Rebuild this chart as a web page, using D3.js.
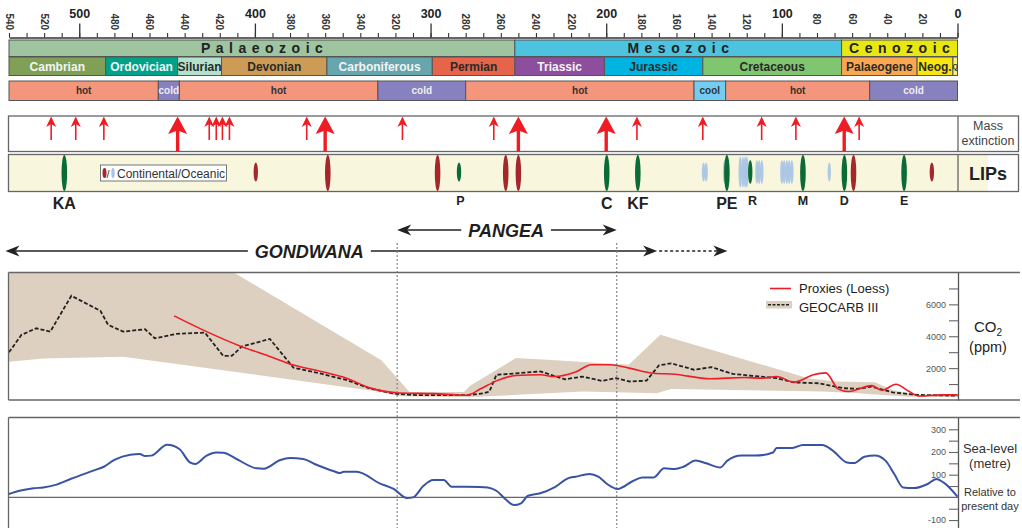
<!DOCTYPE html>
<html>
<head>
<meta charset="utf-8">
<script src="https://cdn.jsdelivr.net/npm/d3@7"></script>
<style>
  body { margin: 0; background: #fff; }
  svg { display: block; font-family: "Liberation Sans", Arial, sans-serif; }
</style>
</head>
<body>
<svg id="chart" width="1022" height="528"></svg>
<script>
// ---- time scale (Ma) ----
var majorTicks = [500, 400, 300, 200, 100, 0];
var minorLabels = [540, 520, 480, 460, 440, 420, 380, 360, 340, 320, 280, 260, 240, 220, 180, 160, 140, 120, 80, 60, 40, 20];

var eras = ["Palaeozoic", "Mesozoic", "Cenozoic"];
var eraStart = [540, 252, 66];
var eraEnd = [252, 66, 0];

var periods = ["Cambrian", "Ordovician", "Silurian", "Devonian", "Carboniferous", "Permian",
  "Triassic", "Jurassic", "Cretaceous", "Palaeogene", "Neog.", "Q"];
var periodStart = [540, 485, 444, 419, 359, 299, 252, 201, 145, 66, 23, 2.6];
var periodEnd = [485, 444, 419, 359, 299, 252, 201, 145, 66, 23, 2.6, 0];

var climate = ["hot", "cold", "hot", "cold", "hot", "cool", "hot", "cold"];
var climateStart = [540, 455, 443, 330, 280, 150, 132, 50];
var climateEnd = [455, 443, 330, 280, 150, 132, 50, 0];

// ---- mass extinctions ----
var extinctionMinor = [516, 502, 486, 426, 422, 418.5, 414.5, 370.5, 316, 264, 182.5, 145, 111.5, 92, 56];
var extinctionMajor = [444, 360, 250, 200, 64.5];

// ---- large igneous provinces ----
var lipAge = [508.5, 399.5, 358.5, 296, 283.8, 257.2, 250, 199.7, 182, 144.6, 143.1, 132.6, 131.3,
  123.7, 122.2, 120.9, 119.9, 118, 114.2, 112.9, 111.4, 100, 98.7, 97.2, 95.8, 94.3, 88, 73, 64.4, 59.2, 30.4, 14.6];
var lipType = ["linked", "continental", "continental", "continental", "linked", "continental", "continental",
  "linked", "linked", "oceanic", "oceanic", "oceanic", "linked", "oceanic", "oceanic", "oceanic", "oceanic",
  "linked", "oceanic", "oceanic", "oceanic", "oceanic", "oceanic", "oceanic", "oceanic", "oceanic",
  "linked", "oceanic", "linked", "continental", "linked", "continental"];
var lipSize = ["L", "S", "L", "L", "S", "L", "L", "L", "L", "S", "S", "M", "L", "T", "T", "T", "T",
  "M", "M", "M", "M", "M", "M", "M", "M", "M", "L", "S", "L", "L", "L", "S"];
var lipNames = ["KA", "P", "C", "KF", "PE", "R", "M", "D", "E"];
var lipNameAge = [508.5, 283, 199.7, 182, 131.3, 116.7, 88, 64.4, 30.4];
var lipNameBig = [true, false, true, true, true, false, false, false, false];

// ---- supercontinents ----
var pangea = [319, 194];
var pangeaLabelAge = 257;
var gondwana = [542, 171];
var gondwanaLabelAge = 369;
var gondwanaDashedEnd = 131;

// ---- CO2 (ppm) ----
var geocarbAge = [540, 533, 524.5, 516.5, 504.5, 488, 483.5, 475, 462.5, 457, 444.5, 428.5, 418, 413, 407.5,
  391.5, 378, 363, 347.5, 334.5, 321, 308, 279.5, 270, 266.5, 262.5, 237.5, 223.5, 213.5, 202.5, 194.5,
  186.5, 177, 170, 163, 150, 140, 128, 117, 103, 93, 79, 65, 57, 49, 37, 23, 0];
var geocarbCO2 = [2990, 4080, 4500, 4290, 6540, 5600, 4710, 4290, 4440, 3870, 4150, 4230, 2760, 2780, 3350,
  3830, 2020, 1670, 1240, 720, 400, 300, 300, 420, 530, 1580, 1790, 1300, 1470, 1200, 1370,
  1160, 1220, 2170, 2300, 1900, 2060, 1640, 1520, 1370, 1100, 1050, 740, 700, 840, 480, 320, 270];

var proxyAge = [446, 427.5, 408.5, 392, 378, 363, 347.5, 334.5, 317.5, 298.5, 279.5, 271.5, 262.5, 251.5,
  237.5, 229.5, 217.5, 208.5, 197.5, 187, 173, 161, 141, 121, 111, 103, 93, 82, 75, 68, 62, 49, 43, 35,
  28, 22, 9, 0];
var proxyCO2 = [5280, 4290, 3390, 2750, 2190, 1810, 1350, 760, 440, 400, 300, 700, 1200, 1540,
  1580, 1470, 1750, 2210, 2210, 2000, 1680, 1620, 1330, 1410, 1370, 1470, 1120, 1580, 1700, 700, 530, 900,
  610, 990, 570, 250, 320, 320];

var bandUpperAge = [540, 412, 328, 312, 281, 277.5, 251.4, 233.4, 187.2, 169.2, 85, 69, 47, 37, 23, 0];
var bandUpperCO2 = [8000, 8000, 2500, 505, 505, 900, 2630, 2526, 2210, 4100, 1370, 1158, 1116, 632, 316, 390];
var bandLowerAge = [540, 520.5, 475, 328, 317.5, 279.5, 213.3, 171.2, 163.2, 77, 57, 28, 0];
var bandLowerCO2 = [2400, 2610, 2715, 505, 233, 170, 526, 421, 695, 526, 421, 210, 168];

// ---- sea level (m, relative to present day) ----
var seaAge = [540, 534, 526, 520.5, 514, 505, 492, 486, 480, 471, 465.5, 462.5, 459, 450, 443, 437, 434,
  427.5, 422, 418, 410.5, 399, 395, 385.5, 380, 372.5, 366, 355, 351.5, 349.5, 342, 329, 321, 313.5, 310,
  304, 298.5, 292.5, 288, 272, 267.5, 262.5, 257.5, 252.5, 248.5, 244.5, 237.5, 229.5, 221.5, 217.5,
  209.5, 204.5, 199.5, 193.5, 185, 179.5, 173, 167, 161, 156, 149, 143, 135, 131, 123, 115, 105, 103,
  94, 88, 77, 71, 63, 59, 53, 47, 41, 36, 31, 25, 17, 12, 8, 0];
var seaLevel = [15, 29, 40, 44, 54, 81, 118, 135, 165, 188, 191, 182, 184, 232, 213, 154, 147,
  184, 198, 197, 169, 128, 126, 165, 173, 169, 147, 115, 107, 113, 113, 62, 37, -3, 0,
  51, 76, 76, 47, 46, 44, 29, -7, -34, -26, 7, 18, 44, 85, 91,
  103, 91, 59, 37, 71, 88, 88, 128, 125, 135, 162, 150, 132, 162, 184, 184, 198, 218,
  218, 231, 231, 206, 154, 151, 179, 184, 162, 103, 44, 41, 59, 81, 66, 3];

var eraColor = { Palaeozoic: "#9ec4a0", Mesozoic: "#4dc3df", Cenozoic: "#e8e712" };
var periodColor = {
  Cambrian: "#7fa056", Ordovician: "#00a189", Silurian: "#b3e1cb", Devonian: "#cc9b55",
  Carboniferous: "#67a6ac", Permian: "#e5644a", Triassic: "#8d4f9d", Jurassic: "#00b4e1",
  Cretaceous: "#80c56f", Palaeogene: "#f9a750", "Neog.": "#f9e510", Q: "#f9ef7a"
};
var lightText = ["Cambrian", "Ordovician", "Carboniferous", "Triassic"];
var climateColor = { hot: "#f4967b", cold: "#8781c0", cool: "#72cdf4" };
var lipColor = { linked: "#0b6b36", continental: "#a3272b", oceanic: "#a6c3e6" };
var lipRy = { L: 18, T: 15.5, M: 12, S: 9.5 };

var svg = d3.select("#chart");
var FONT = "'Liberation Sans', Arial, sans-serif";

var x = d3.scaleLinear().domain([540, 0]).range([9, 957.5]);

// top axis
var axisG = svg.append("g").attr("transform", "translate(0,37.5)")
  .call(d3.axisTop(x).tickValues(d3.range(0, 541, 10)).tickSize(4.5).tickSizeOuter(0).tickFormat(""));
axisG.select(".domain").attr("stroke", "#333").attr("stroke-width", 1.3);
axisG.selectAll(".tick line").attr("stroke", "#333").attr("stroke-width", 1.1);

var majorG = svg.append("g").attr("transform", "translate(0,37.5)")
  .call(d3.axisTop(x).tickValues(majorTicks).tickSize(14).tickPadding(6).tickFormat(d3.format("d")));
majorG.select(".domain").remove();
majorG.attr("font-family", FONT).attr("font-size", 12.5).attr("font-weight", "bold");
majorG.selectAll(".tick line").attr("stroke", "#333").attr("stroke-width", 1.3);
majorG.selectAll(".tick text").attr("fill", "#222");

svg.append("g").selectAll("text").data(minorLabels).join("text")
  .attr("transform", function (d) { return "translate(" + x(d) + ",13.5) rotate(90)"; })
  .attr("dy", "0.35em")
  .attr("font-size", 10).attr("font-weight", "bold").attr("fill", "#333")
  .text(function (d) { return d; });

// era / period / climate bars
function bar(names, starts, ends, y0, h, fillFn) {
  var g = svg.append("g");
  g.selectAll("rect").data(names).join("rect")
    .attr("x", function (d, i) { return x(starts[i]); })
    .attr("width", function (d, i) { return x(ends[i]) - x(starts[i]); })
    .attr("y", y0).attr("height", h)
    .attr("fill", fillFn)
    .attr("stroke", "#555").attr("stroke-width", 1);
  return g.selectAll("text").data(names).join("text")
    .attr("x", function (d, i) { return (x(starts[i]) + x(ends[i])) / 2; })
    .attr("y", y0 + h / 2).attr("dy", "0.36em")
    .attr("text-anchor", "middle").attr("font-weight", "bold")
    .text(function (d) { return d; });
}

bar(eras, eraStart, eraEnd, 40, 16.5, function (d) { return eraColor[d]; })
  .attr("font-size", 14).attr("letter-spacing", 5.5).attr("dx", 2.7).attr("fill", "#222");

bar(periods, periodStart, periodEnd, 57, 18.5, function (d) { return periodColor[d]; })
  .attr("font-size", function (d) { return d === "Q" ? 7 : 12; })
  .attr("fill", function (d) { return lightText.indexOf(d) >= 0 ? "#f4f4f4" : "#2a2a2a"; });

bar(climate, climateStart, climateEnd, 81, 19.5, function (d) { return climateColor[d]; })
  .attr("font-size", 10)
  .attr("fill", function (d) { return d === "cold" ? "#eeeeee" : "#333"; });

// mass extinction box
var extG = svg.append("g");
extG.append("rect").attr("x", 8.5).attr("y", 116).attr("width", 1010).attr("height", 35.5)
  .attr("fill", "#fff").attr("stroke", "#666").attr("stroke-width", 1.3);
extG.append("line").attr("x1", 958).attr("x2", 958).attr("y1", 116).attr("y2", 151.5)
  .attr("stroke", "#666").attr("stroke-width", 1.3);

extG.selectAll(".minor").data(extinctionMinor).join("g").attr("class", "minor")
  .each(function (d) {
    var g = d3.select(this), cx = x(d);
    g.append("line").attr("x1", cx).attr("x2", cx).attr("y1", 140).attr("y2", 122)
      .attr("stroke", "#ee1c25").attr("stroke-width", 1.6);
    g.append("path").attr("fill", "#ee1c25")
      .attr("d", "M" + (cx - 5) + ",127 L" + cx + ",116.5 L" + (cx + 5) + ",127 L" + cx + ",124 Z");
  });
extG.selectAll(".major").data(extinctionMajor).join("g").attr("class", "major")
  .each(function (d) {
    var g = d3.select(this), cx = x(d);
    g.append("line").attr("x1", cx).attr("x2", cx).attr("y1", 151.5).attr("y2", 128)
      .attr("stroke", "#ee1c25").attr("stroke-width", 3.4);
    g.append("path").attr("fill", "#ee1c25")
      .attr("d", "M" + (cx - 9.5) + ",134 L" + cx + ",116.5 L" + (cx + 9.5) + ",134 L" + cx + ",130.5 Z");
  });
extG.append("text").attr("x", 988).attr("y", 130).attr("text-anchor", "middle")
  .attr("font-size", 12.5).attr("fill", "#444").text("Mass");
extG.append("text").attr("x", 988).attr("y", 145).attr("text-anchor", "middle")
  .attr("font-size", 12.5).attr("fill", "#444").text("extinction");

// LIPs box
var lipG = svg.append("g");
lipG.append("rect").attr("x", 8.5).attr("y", 154.5).attr("width", 979.5).attr("height", 37)
  .attr("fill", "#f8f7de");
lipG.append("rect").attr("x", 8.5).attr("y", 154.5).attr("width", 1010).attr("height", 37)
  .attr("fill", "none").attr("stroke", "#666").attr("stroke-width", 1.3);
lipG.append("line").attr("x1", 958).attr("x2", 958).attr("y1", 154.5).attr("y2", 191.5)
  .attr("stroke", "#666").attr("stroke-width", 1.3);
lipG.selectAll("ellipse.lip").data(lipAge).join("ellipse").attr("class", "lip")
  .attr("cx", function (d) { return x(d); })
  .attr("cy", function (d, i) { return lipSize[i] === "L" ? 173 : 172; })
  .attr("rx", function (d, i) { return lipType[i] === "oceanic" ? 1.7 : (lipSize[i] === "L" ? 2.8 : 2.2); })
  .attr("ry", function (d, i) { return lipRy[lipSize[i]]; })
  .attr("fill", function (d, i) { return lipColor[lipType[i]]; })
  .attr("opacity", function (d, i) { return lipType[i] === "oceanic" ? 0.9 : 1; });

// legend inside LIPs box
lipG.append("rect").attr("x", 100.5).attr("y", 165).attr("width", 126).attr("height", 16)
  .attr("fill", "#fff").attr("stroke", "#777").attr("stroke-width", 1);
lipG.append("ellipse").attr("cx", 104.5).attr("cy", 173).attr("rx", 2).attr("ry", 5).attr("fill", lipColor.continental);
lipG.append("text").attr("x", 106.5).attr("y", 177.5).attr("font-size", 11).attr("fill", "#333").text("/");
lipG.append("ellipse").attr("cx", 113).attr("cy", 173).attr("rx", 1.7).attr("ry", 5).attr("fill", lipColor.oceanic);
lipG.append("text").attr("x", 117).attr("y", 177.5).attr("font-size", 12).attr("fill", "#333")
  .text("Continental/Oceanic");
lipG.append("text").attr("x", 988).attr("y", 180).attr("text-anchor", "middle")
  .attr("font-size", 18).attr("font-weight", "bold").attr("fill", "#222").text("LIPs");

svg.append("g").selectAll("text").data(lipNames).join("text")
  .attr("x", function (d, i) { return x(lipNameAge[i]); })
  .attr("y", function (d, i) { return lipNameBig[i] ? 209 : 205; })
  .attr("text-anchor", "middle").attr("font-weight", "bold").attr("fill", "#222")
  .attr("font-size", function (d, i) { return lipNameBig[i] ? 16 : 12.5; })
  .text(function (d) { return d; });

// supercontinent arrows
function arrowHead(tip, y, dir) {
  return "M" + tip + "," + y + " L" + (tip - dir * 14) + "," + (y - 5.5) + " L" + (tip - dir * 10) + "," + y +
    " L" + (tip - dir * 14) + "," + (y + 5.5) + " Z";
}
var contG = svg.append("g").attr("stroke", "#222").attr("fill", "#222");

var pText = contG.append("text").attr("x", x(pangeaLabelAge)).attr("y", 237).attr("stroke", "none")
  .attr("text-anchor", "middle").attr("font-size", 18).attr("font-style", "italic").attr("font-weight", "bold")
  .attr("fill", "#1e1e1e").text("PANGEA");
var pHalf = pText.node().getComputedTextLength() / 2 + 7;
contG.append("line").attr("x1", x(pangeaLabelAge) - pHalf).attr("x2", x(pangea[0]) + 10)
  .attr("y1", 230).attr("y2", 230).attr("stroke-width", 1.6);
contG.append("path").attr("stroke", "none").attr("d", arrowHead(x(pangea[0]), 230, -1));
contG.append("line").attr("x1", x(pangeaLabelAge) + pHalf).attr("x2", x(pangea[1]) - 10)
  .attr("y1", 230).attr("y2", 230).attr("stroke-width", 1.6);
contG.append("path").attr("stroke", "none").attr("d", arrowHead(x(pangea[1]), 230, 1));

var gText = contG.append("text").attr("x", x(gondwanaLabelAge)).attr("y", 258).attr("stroke", "none")
  .attr("text-anchor", "middle").attr("font-size", 18).attr("font-style", "italic").attr("font-weight", "bold")
  .attr("fill", "#1e1e1e").text("GONDWANA");
var gHalf = gText.node().getComputedTextLength() / 2 + 7;
contG.append("line").attr("x1", x(gondwanaLabelAge) - gHalf).attr("x2", x(gondwana[0]) + 10)
  .attr("y1", 251).attr("y2", 251).attr("stroke-width", 1.6);
contG.append("path").attr("stroke", "none").attr("d", arrowHead(x(gondwana[0]), 251, -1));
contG.append("line").attr("x1", x(gondwanaLabelAge) + gHalf).attr("x2", x(gondwana[1]) - 10)
  .attr("y1", 251).attr("y2", 251).attr("stroke-width", 1.6);
contG.append("path").attr("stroke", "none").attr("d", arrowHead(x(gondwana[1]), 251, 1));
contG.append("line").attr("x1", x(gondwana[1]) + 2).attr("x2", x(gondwanaDashedEnd) - 10)
  .attr("y1", 251).attr("y2", 251).attr("stroke-width", 1.3).attr("stroke-dasharray", "3,2.5");
contG.append("path").attr("stroke", "none").attr("d", arrowHead(x(gondwanaDashedEnd), 251, 1));

// ---- CO2 panel ----
var yCO2 = d3.scaleLinear().domain([0, 8000]).range([400, 272.5]);
svg.append("clipPath").attr("id", "co2clip").append("rect")
  .attr("x", 8.5).attr("y", 272.5).attr("width", 949.5).attr("height", 127.5);
var co2G = svg.append("g");
var bandPts = bandUpperAge.map(function (a, i) { return [x(a), yCO2(bandUpperCO2[i])]; })
  .concat(bandLowerAge.map(function (a, i) { return [x(a), yCO2(bandLowerCO2[i])]; }).reverse());
co2G.append("path").attr("clip-path", "url(#co2clip)")
  .attr("d", d3.line()(bandPts) + "Z").attr("fill", "#ddd0c0");

// Pangea dotted markers
svg.append("g").selectAll("line").data(pangea).join("line")
  .attr("x1", function (d) { return x(d); }).attr("x2", function (d) { return x(d); })
  .attr("y1", 243).attr("y2", 528)
  .attr("stroke", "#888").attr("stroke-width", 1.2).attr("stroke-dasharray", "2,2");

co2G.append("path")
  .attr("d", d3.line().x(function (d) { return x(d); }).y(function (d, i) { return yCO2(geocarbCO2[i]); })(geocarbAge))
  .attr("fill", "none").attr("stroke", "#222").attr("stroke-width", 1.8).attr("stroke-dasharray", "4,2");
co2G.append("path")
  .attr("d", d3.line().curve(d3.curveMonotoneX)
    .x(function (d) { return x(d); }).y(function (d, i) { return yCO2(proxyCO2[i]); })(proxyAge))
  .attr("fill", "none").attr("stroke", "#ee1c25").attr("stroke-width", 1.6);

svg.append("line").attr("x1", 8.5).attr("x2", 1020).attr("y1", 272.5).attr("y2", 272.5)
  .attr("stroke", "#666").attr("stroke-width", 1.3);
svg.append("line").attr("x1", 8.5).attr("x2", 1020).attr("y1", 400).attr("y2", 400)
  .attr("stroke", "#666").attr("stroke-width", 1.3);
svg.append("line").attr("x1", 8.5).attr("x2", 8.5).attr("y1", 272.5).attr("y2", 400)
  .attr("stroke", "#666").attr("stroke-width", 1.3);

var co2Axis = svg.append("g").attr("transform", "translate(958,0)")
  .call(d3.axisLeft(yCO2).tickValues(d3.range(1000, 8000, 1000)).tickSize(9).tickSizeOuter(0).tickPadding(3)
    .tickFormat(function (d) { return d % 2000 ? "" : d; }));
co2Axis.attr("font-family", FONT).attr("font-size", 9);
co2Axis.select(".domain").attr("stroke", "#555").attr("stroke-width", 1.3);
co2Axis.selectAll(".tick line").attr("stroke", "#666").attr("stroke-width", 1.1);
co2Axis.selectAll(".tick text").attr("fill", "#555");

var co2Label = svg.append("text").attr("x", 988).attr("y", 331.5).attr("text-anchor", "middle")
  .attr("font-size", 15).attr("fill", "#222");
co2Label.append("tspan").text("CO");
co2Label.append("tspan").attr("font-size", 10).attr("dy", 4).text("2");
svg.append("text").attr("x", 988).attr("y", 352).attr("text-anchor", "middle")
  .attr("font-size", 14.5).attr("fill", "#222").text("(ppm)");

// legend
var legG = svg.append("g");
legG.append("line").attr("x1", 770).attr("x2", 791).attr("y1", 288.5).attr("y2", 288.5)
  .attr("stroke", "#ee1c25").attr("stroke-width", 1.6);
legG.append("text").attr("x", 799).attr("y", 293).attr("font-size", 13).attr("fill", "#222").text("Proxies (Loess)");
legG.append("rect").attr("x", 766).attr("y", 301).attr("width", 26).attr("height", 7.5).attr("fill", "#ddd0c0");
legG.append("line").attr("x1", 768).attr("x2", 790).attr("y1", 304.7).attr("y2", 304.7)
  .attr("stroke", "#222").attr("stroke-width", 1.6).attr("stroke-dasharray", "3,1.5");
legG.append("text").attr("x", 799).attr("y", 312).attr("font-size", 13).attr("fill", "#222").text("GEOCARB III");

// ---- sea level panel ----
var ySea = d3.scaleLinear().domain([-135, 352]).range([528, 417.5]);
svg.append("line").attr("x1", 8.5).attr("x2", 1020).attr("y1", 417.5).attr("y2", 417.5)
  .attr("stroke", "#666").attr("stroke-width", 1.3);
svg.append("line").attr("x1", 8.5).attr("x2", 8.5).attr("y1", 417.5).attr("y2", 528)
  .attr("stroke", "#666").attr("stroke-width", 1.3);
svg.append("line").attr("x1", 8.5).attr("x2", 958).attr("y1", ySea(0)).attr("y2", ySea(0))
  .attr("stroke", "#666").attr("stroke-width", 1.3);

svg.append("path")
  .attr("d", d3.line().curve(d3.curveMonotoneX)
    .x(function (d) { return x(d); }).y(function (d, i) { return ySea(seaLevel[i]); })(seaAge))
  .attr("fill", "none").attr("stroke", "#3953a4").attr("stroke-width", 2);

var seaAxis = svg.append("g").attr("transform", "translate(958,0)")
  .call(d3.axisLeft(ySea).tickValues([-100, -50, 50, 100, 150, 200, 250, 300]).tickSize(9).tickSizeOuter(0)
    .tickPadding(3).tickFormat(function (d) { return d % 100 ? "" : d; }));
seaAxis.attr("font-family", FONT).attr("font-size", 9);
seaAxis.select(".domain").attr("stroke", "#555").attr("stroke-width", 1.3);
seaAxis.selectAll(".tick line").attr("stroke", "#666").attr("stroke-width", 1.1);
seaAxis.selectAll(".tick text").attr("fill", "#555");

var seaLabels = [["Sea-level", 453, 13], ["(metre)", 468, 13], ["Relative to", 496, 11], ["present day", 509.5, 11]];
svg.append("g").selectAll("text").data(seaLabels).join("text")
  .attr("x", 990).attr("y", function (d) { return d[1]; }).attr("text-anchor", "middle")
  .attr("font-size", function (d) { return d[2]; }).attr("fill", "#333")
  .text(function (d) { return d[0]; });
</script>
</body>
</html>
